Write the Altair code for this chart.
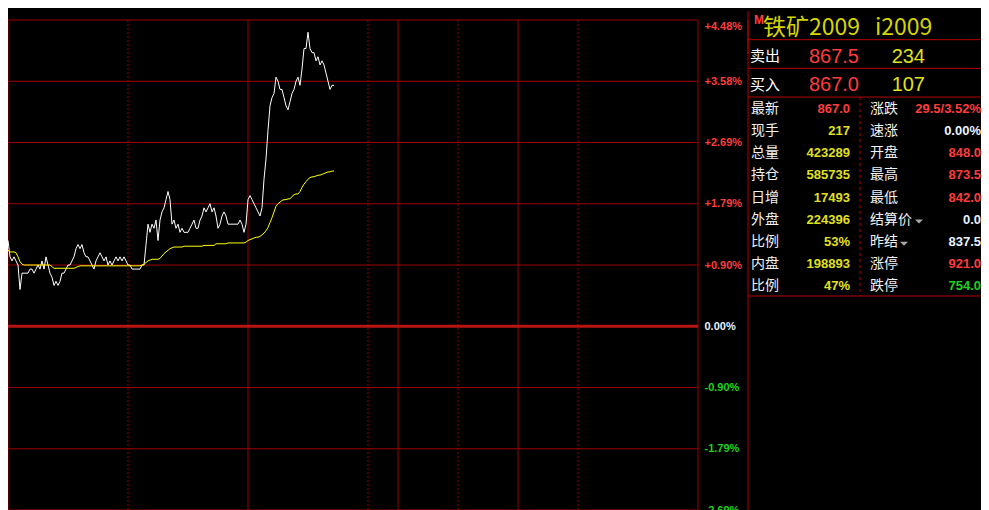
import altair as alt
import pandas as pd

# ---------------- data ----------------
prev_settle = 837.5          # 昨结, the 0.00% reference
session_minutes = 345        # 21:00-23:00, 09:00-10:15, 10:30-11:30, 13:30-15:00

# last price, one value per minute from 21:00
last_price = [
    848.0, 846.0, 845.5, 846.0, 845.5, 845.0, 842.0, 844.0, 844.0, 844.0,
    844.0, 844.5, 844.5, 844.0, 844.5, 845.0, 844.5, 845.5, 844.5, 846.0,
    845.0, 844.0, 843.5, 842.5, 843.0, 842.5, 843.0, 844.0, 844.0, 844.5,
    845.0, 845.0, 845.5, 846.0, 847.0, 847.5, 847.0, 847.5, 846.5, 846.0,
    846.0, 845.5, 845.0, 844.5, 845.5, 846.0, 846.5, 846.0, 845.5, 846.0,
    845.0, 845.5, 845.0, 845.5, 846.0, 845.5, 846.0, 845.5, 846.0, 845.5,
    845.0, 845.0, 844.5, 844.5, 844.5, 844.5, 844.5, 845.0, 845.0, 847.5,
    850.0, 849.0, 850.0, 849.5, 850.5, 848.0, 850.5, 851.5, 852.0, 853.0,
    854.0, 853.0, 850.0, 850.5, 849.5, 850.0, 849.0, 849.5, 849.0, 849.0,
    849.0, 849.5, 850.0, 850.5, 849.5, 849.5, 850.5, 851.0, 852.0, 851.5,
    852.0, 852.5, 851.5, 852.0, 851.0, 849.5, 850.0, 851.0, 851.5, 851.0,
    850.0, 850.0, 850.0, 850.0, 850.0, 850.0, 850.5, 850.0, 849.0, 850.0,
    853.0, 853.5, 853.0, 852.5, 852.0, 851.5, 851.0, 852.0, 855.5, 858.0,
    861.5, 864.5, 865.5, 866.0, 868.0, 867.5, 866.5, 866.5, 865.5, 864.5,
    864.0, 865.0, 866.0, 866.5, 867.5, 868.0, 867.0, 869.0, 871.5, 871.5,
    873.5, 871.5, 871.0, 871.0, 870.0, 870.5, 869.5, 870.0, 869.5, 868.5,
    867.5, 866.5, 867.0, 867.0,
]
# average price, same minutes
avg_price = [
    846.8, 846.6, 846.6, 846.6, 846.5, 846.0, 845.4, 845.1, 845.0, 845.0,
    845.0, 845.0, 845.0, 845.0, 845.0, 845.0, 845.0, 845.0, 845.0, 845.0,
    845.0, 845.0, 844.8, 844.6, 844.6, 844.6, 844.6, 844.6, 844.6, 844.6,
    844.6, 844.6, 844.6, 844.6, 844.7, 844.8, 844.9, 844.9, 844.9, 844.9,
    844.9, 844.9, 844.9, 844.9, 844.9, 844.9, 844.9, 844.9, 844.9, 844.9,
    844.9, 844.9, 844.9, 844.9, 844.9, 844.9, 844.9, 844.9, 844.9, 844.9,
    844.9, 844.9, 844.9, 844.9, 844.9, 844.9, 844.9, 845.0, 845.1, 845.3,
    845.5, 845.6, 845.7, 845.7, 845.7, 845.7, 845.8, 846.1, 846.4, 846.6,
    846.8, 847.0, 847.1, 847.2, 847.2, 847.2, 847.2, 847.2, 847.3, 847.3,
    847.3, 847.3, 847.3, 847.3, 847.3, 847.3, 847.3, 847.3, 847.4, 847.4,
    847.4, 847.4, 847.4, 847.4, 847.6, 847.6, 847.6, 847.6, 847.6, 847.6,
    847.7, 847.7, 847.7, 847.7, 847.7, 847.7, 847.7, 847.7, 847.7, 847.8,
    848.0, 848.1, 848.2, 848.3, 848.4, 848.4, 848.5, 848.7, 848.9, 849.2,
    849.6, 850.2, 850.8, 851.5, 852.2, 852.5, 852.7, 852.9, 853.0, 853.0,
    853.1, 853.1, 853.4, 853.6, 853.7, 853.7, 854.0, 854.5, 854.9, 855.2,
    855.5, 855.7, 855.8, 855.8, 855.9, 856.0, 856.0, 856.1, 856.2, 856.3,
    856.4, 856.4, 856.5, 856.5,
]

grid_prices = [815.0, 822.5, 830.0, 837.5, 845.0, 852.5, 860.0, 867.5, 875.0]
session_bounds = [0, 120, 195, 255, 345]      # 21:00 | 09:00 | 10:15 | 11:30 | 15:00
half_hour_marks = [60, 180, 225, 285]         # 22:00, 10:00, 11:00, 14:00

title_code = "M"
title_name = "铁矿2009"
title_symbol = "i2009"
quote_labels = ["卖出", "买入"]
quote_prices = ["867.5", "867.0"]
quote_volumes = ["234", "107"]

left_labels = ["最新", "现手", "总量", "持仓", "日增", "外盘", "比例", "内盘", "比例"]
left_values = ["867.0", "217", "423289", "585735", "17493", "224396", "53%", "198893", "47%"]
right_labels = ["涨跌", "速涨", "开盘", "最高", "最低", "结算价", "昨结", "涨停", "跌停"]
right_values = ["29.5/3.52%", "0.00%", "848.0", "873.5", "842.0", "0.0", "837.5", "921.0", "754.0"]
dropdown_labels = ["结算价", "昨结"]

# ---------------- styles ----------------
BG = "#000000"
RED = "#ff3c3c"
GREEN = "#1ed21e"
LIGHT = "#eaf2ff"
YELLOW = "#e0e020"
TITLE_C = "#d4d400"
WHITE = "#ffffff"
GRID = "#9c0000"
ZERO = "#b81414"
FRAME = "#b40000"
CJK = "Noto Sans CJK SC"
LAT = "Liberation Sans"

W, H = 690, 490
RIGHT_PAD = 283   # keeps the whole page inside the 989px window with its 8px margins

price_labels = {"最新", "开盘", "最高", "最低", "涨停", "跌停"}


def tone(label, text):
    if label in price_labels:
        v = float(text) - prev_settle
    elif label in ("涨跌", "速涨"):
        v = float(text.split("/")[0].rstrip("%"))
    elif label in ("结算价", "昨结"):
        v = 0.0
    else:
        return "vol"
    return "up" if v > 0 else ("down" if v < 0 else "flat")


TONE = alt.Scale(domain=["up", "down", "flat", "vol"], range=[RED, GREEN, LIGHT, YELLOW])

XS = alt.Scale(domain=[0, session_minutes], nice=False, zero=False)
YS = alt.Scale(domain=[grid_prices[0], grid_prices[-1]], nice=False, zero=False)

# ---------------- main intraday panel ----------------
df_line = pd.DataFrame({"minute": list(range(len(last_price))),
                        "price": last_price, "avg": avg_price})

line_price = alt.Chart(df_line).mark_line(color=WHITE, strokeWidth=1).encode(
    x=alt.X("minute:Q", scale=XS, axis=None),
    y=alt.Y("price:Q", scale=YS, axis=None),
)
line_avg = alt.Chart(df_line).mark_line(color="#ffff00", strokeWidth=1).encode(
    x=alt.X("minute:Q", scale=XS, axis=None),
    y=alt.Y("avg:Q", scale=YS, axis=None),
)

label_expr = (
    f"(datum.value > {prev_settle} ? '+' : (datum.value < {prev_settle} ? '-' : '')) + "
    f"format(abs(datum.value - {prev_settle}) / {prev_settle} * 100, '.2f') + '%'"
)
y_axis = alt.Axis(
    orient="right", values=grid_prices, labelExpr=label_expr,
    ticks=False, domain=False, grid=False, title=None,
    labelPadding=6, labelFont=LAT, labelFontSize=11, labelFontWeight="bold",
    labelAlign="left", labelFlush=False, labelOverlap=False,
    labelColor={"condition": [
        {"test": f"datum.value > {prev_settle}", "value": RED},
        {"test": f"datum.value < {prev_settle}", "value": GREEN}],
        "value": LIGHT},
    labelBaseline={"condition": {"test": f"datum.value >= {grid_prices[-1]}", "value": "top"},
                   "value": "middle"},
)

hgrid = alt.Chart(pd.DataFrame({"p": grid_prices})).mark_rule(color=GRID, strokeWidth=1).encode(
    y=alt.Y("p:Q", scale=YS, axis=y_axis)
)
zero_line = alt.Chart(pd.DataFrame({"p": [prev_settle]})).mark_rule(color=ZERO, strokeWidth=3).encode(
    y=alt.Y("p:Q", scale=YS, axis=None)
)
v_solid = alt.Chart(pd.DataFrame({"m": session_bounds})).mark_rule(color=GRID, strokeWidth=1).encode(
    x=alt.X("m:Q", scale=XS, axis=None)
)
v_dash = alt.Chart(pd.DataFrame({"m": half_hour_marks})).mark_rule(
    color=GRID, strokeWidth=1, strokeDash=[2, 2]).encode(
    x=alt.X("m:Q", scale=XS, axis=None)
)

# ---------------- quote panel ----------------
HEADER_ROWS = ["title", "sell", "buy"]
HY = alt.Scale(type="band", domain=HEADER_ROWS, range=[-9, 77], paddingInner=0, paddingOuter=0)
STATS_ROWS = [f"r{i}" for i in range(len(left_labels))]
SY = alt.Scale(type="band", domain=STATS_ROWS, range=[77, 276], paddingInner=0, paddingOuter=0)


def col_x(field, domain, rng):
    return alt.X(f"{field}:N", scale=alt.Scale(type="point", domain=domain, range=rng, padding=0), axis=None)


hy = alt.Y("row:N", scale=HY, axis=None)
sy = alt.Y("row:N", scale=SY, axis=None)

t_code = alt.Chart(pd.DataFrame({"col": ["code"], "row": ["title"], "text": [title_code]})).mark_text(
    align="left", baseline="middle", font=LAT, fontSize=12, fontWeight="bold", color=RED, dy=-5
).encode(x=col_x("col", ["code"], [746, 746]), y=hy, text="text:N")

t_name = alt.Chart(pd.DataFrame({"col": ["name", "symbol"], "row": ["title", "title"],
                                 "text": [title_name, title_symbol]})).mark_text(
    align="left", baseline="middle", font=CJK, fontSize=23, color=TITLE_C, dy=2.5
).encode(x=col_x("col", ["name", "symbol"], [755, 867]), y=hy, text="text:N")

q_lab = alt.Chart(pd.DataFrame({"col": ["label"] * 2, "row": ["sell", "buy"], "text": quote_labels})).mark_text(
    align="left", baseline="middle", font=CJK, fontSize=15, color=WHITE, dy=2
).encode(x=col_x("col", ["label"], [742, 742]), y=hy, text="text:N")

q_px = alt.Chart(pd.DataFrame({"col": ["price"] * 2, "row": ["sell", "buy"], "text": quote_prices,
                               "tone": ["up" if float(p) > prev_settle else ("down" if float(p) < prev_settle else "flat")
                                        for p in quote_prices]})).mark_text(
    align="right", baseline="middle", font=LAT, fontSize=20, dy=2.5
).encode(x=col_x("col", ["price"], [851, 851]), y=hy, text="text:N",
         color=alt.Color("tone:N", scale=TONE, legend=None))

q_vol = alt.Chart(pd.DataFrame({"col": ["vol"] * 2, "row": ["sell", "buy"], "text": quote_volumes})).mark_text(
    align="right", baseline="middle", font=LAT, fontSize=20, color=YELLOW, dy=2.5
).encode(x=col_x("col", ["vol"], [917, 917]), y=hy, text="text:N")

n = len(left_labels)
df_stats = pd.DataFrame({
    "row": STATS_ROWS * 2,
    "col": ["L"] * n + ["R"] * n,
    "label": left_labels + right_labels,
    "value": left_values + right_values,
})
df_stats["tone"] = [tone(l, v) for l, v in zip(df_stats["label"], df_stats["value"])]

s_lab = alt.Chart(df_stats).mark_text(
    align="left", baseline="middle", font=CJK, fontSize=14, color="#f2f2f2", dy=1
).encode(x=col_x("col", ["L", "R"], [743, 862]), y=sy, text="label:N")

s_val = alt.Chart(df_stats).mark_text(
    align="right", baseline="middle", font=LAT, fontSize=13, fontWeight="bold", dy=1
).encode(x=col_x("col", ["L", "R"], [842, 973]), y=sy, text="value:N",
         color=alt.Color("tone:N", scale=TONE, legend=None))

df_drop = pd.DataFrame({"col": dropdown_labels,
                        "row": [STATS_ROWS[right_labels.index(l)] for l in dropdown_labels]})
s_drop = alt.Chart(df_drop).mark_point(
    shape="M-1,-0.5L1,-0.5L0,0.5Z", size=64, filled=True, color="#a8a8a8", opacity=1, yOffset=3
).encode(x=col_x("col", dropdown_labels, [911, 896]), y=sy)

# frame lines of the quote panel
FX = alt.Scale(type="point", domain=["left", "right"], range=[740, W + RIGHT_PAD], padding=0)
f_head = alt.Chart(pd.DataFrame({"row": ["sell", "buy"], "x0": ["left"] * 2, "x1": ["right"] * 2})).mark_rule(
    color=FRAME, strokeWidth=1).encode(
    x=alt.X("x0:N", scale=FX, axis=None), x2=alt.X2("x1"),
    y=alt.Y("row:N", scale=HY, axis=None, bandPosition=0))
f_top = alt.Chart(pd.DataFrame({"row": [STATS_ROWS[0]], "x0": ["left"], "x1": ["right"]})).mark_rule(
    color=FRAME, strokeWidth=1).encode(
    x=alt.X("x0:N", scale=FX, axis=None), x2=alt.X2("x1"),
    y=alt.Y("row:N", scale=SY, axis=None, bandPosition=0))
f_bot = alt.Chart(pd.DataFrame({"row": [STATS_ROWS[-1]], "x0": ["left"], "x1": ["right"]})).mark_rule(
    color=FRAME, strokeWidth=1).encode(
    x=alt.X("x0:N", scale=FX, axis=None), x2=alt.X2("x1"),
    y=alt.Y("row:N", scale=SY, axis=None, bandPosition=1))
f_left = alt.Chart(pd.DataFrame({"x0": ["left"]})).mark_rule(color=FRAME, strokeWidth=1).encode(
    x=alt.X("x0:N", scale=FX, axis=None))
f_left_top = alt.Chart(pd.DataFrame({"x0": ["left"], "row": ["title"], "row2": ["sell"]})).mark_rule(
    color=FRAME, strokeWidth=1).encode(
    x=alt.X("x0:N", scale=FX, axis=None),
    y=alt.Y("row:N", scale=HY, axis=None, bandPosition=0), y2=alt.Y2("row2"))
f_div = alt.Chart(pd.DataFrame({"x0": ["divider"], "row": [STATS_ROWS[0]], "row2": [STATS_ROWS[-1]]})).mark_rule(
    color=FRAME, strokeWidth=1, strokeDash=[3, 3]).encode(
    x=col_x("x0", ["divider"], [852, 852]),
    y=alt.Y("row:N", scale=SY, axis=None, bandPosition=0), y2=alt.Y2("row2", bandPosition=1))

chart = alt.layer(
    hgrid, v_solid, v_dash, zero_line, line_price, line_avg,
    f_head, f_top, f_bot, f_left, f_left_top, f_div,
    t_code, t_name, q_lab, q_px, q_vol, s_lab, s_val, s_drop,
).resolve_scale(
    x="independent", y="independent"
).properties(
    width=W, height=H,
    padding={"left": 0, "top": 12, "right": RIGHT_PAD, "bottom": 0},
    autosize=alt.AutoSizeParams(type="none"),
    background=BG,
).configure_view(strokeWidth=0)

chart.save("out.html", embed_options={"renderer": "svg", "actions": False})
